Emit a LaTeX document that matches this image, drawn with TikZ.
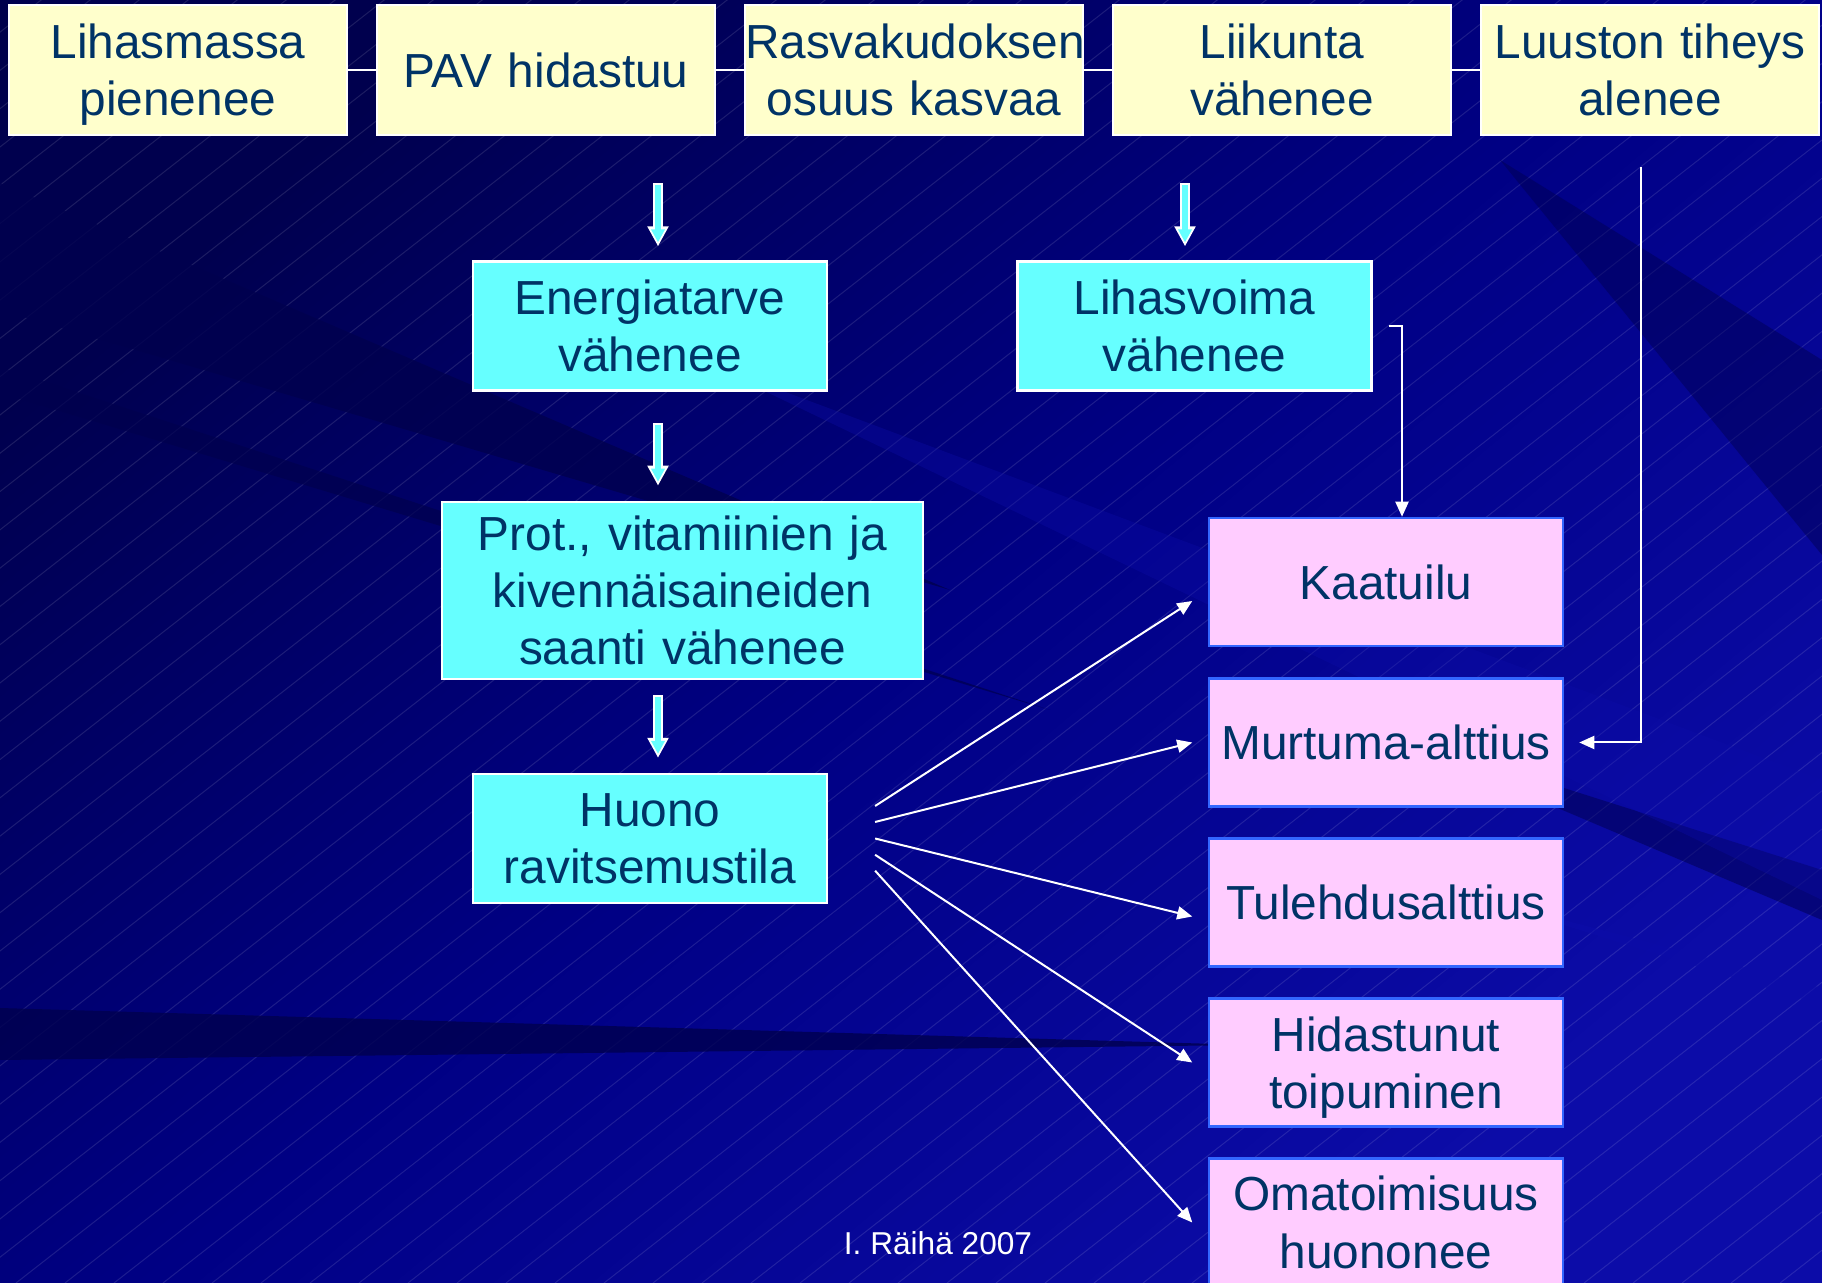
\documentclass[tikz,border=0pt]{standalone}
\usepackage{fontspec}
\setmainfont{Liberation Sans}
\usetikzlibrary{arrows.meta}
\definecolor{tummaSini}{RGB}{0,0,78}
\definecolor{pohjaSini}{RGB}{0,0,132}
\definecolor{vaaleaSini}{RGB}{12,12,168}
\definecolor{tekstiSini}{RGB}{0,51,102}
\definecolor{keltainen}{RGB}{255,255,204}
\definecolor{syaani}{RGB}{102,255,255}
\definecolor{roosa}{RGB}{255,204,255}
\definecolor{reunaSini}{RGB}{51,102,255}

\begin{document}
\begin{tikzpicture}[node distance=3.68cm, auto,
    box/.style={rectangle, inner sep=0pt, align=center, text=tekstiSini, font=\fontsize{13.6}{16.3}\selectfont},
    topbox/.style={box, draw=white, line width=0.22mm, fill=keltainen, minimum width=3.38cm, text width=3.38cm, minimum height=1.30cm},
    cyanbox/.style={box, draw=white, line width=0.22mm, fill=syaani, minimum width=3.54cm, text width=3.54cm, minimum height=1.29cm},
    pinkbox/.style={box, draw=reunaSini, line width=0.25mm, fill=roosa, minimum width=3.54cm, text width=3.54cm, minimum height=1.28cm},
    link/.style={draw=white, line width=0.25mm},
    line/.style={draw=white, line width=0.2mm, -{Triangle[width=1.3mm,length=1.5mm]}},
    blockarrow/.style={draw=syaani, line width=0.6mm, shorten <=0.2mm, shorten >=0.4mm, -{Triangle[width=1.3mm,length=1.3mm]},
        preaction={draw=white, line width=1mm, shorten <=0mm, shorten >=0mm, -{Triangle[width=2mm,length=2mm]}}},
    hatch/.style={draw=white, opacity=0.11, line width=0.1mm}]

    % tausta
    \clip (0,0) rectangle (18.22,-12.83);
    \shade [shading=axis, top color=tummaSini, bottom color=vaaleaSini, middle color=pohjaSini, shading angle=40] (0,0) rectangle (18.22,-12.83);
    \foreach \k in {0,...,72}
        \draw [hatch] (-16.5+\k*0.49,-12.83) -- ++(38:21);
    \fill [tummaSini, opacity=0.8] (0,-1.83) -- (9.5,-5.9) -- (0,-3.10) -- cycle;
    \fill [tummaSini, opacity=0.7] (0,-3.67) -- (10.5,-7.1) -- (0,-3.93) -- cycle;
    \fill [tummaSini, opacity=0.8] (0,-10.08) -- (12.5,-10.45) -- (0,-10.6) -- cycle;
    \fill [tummaSini, opacity=0.45] (15.0,-1.6) -- (18.22,-3.6) -- (18.22,-5.55) -- cycle;
    \fill [tummaSini, opacity=0.5] (13.5,-7.2) -- (18.22,-8.7) -- (18.22,-9.2) -- cycle;
    \fill [vaaleaSini, opacity=0.6] (14.5,-8.9) -- (18.22,-9.88) -- (18.22,-10.05) -- cycle;
    \fill [vaaleaSini, opacity=0.35] (7.0,-3.6) -- (18.22,-7.8) -- (18.22,-9.0) -- cycle;

    \node [topbox] (lihasmassa) at (1.78,-0.70) {Lihasmassa\\\smash{pienenee}};
    \node [topbox, right of=lihasmassa] (pav) {PAV hidastuu};
    \node [topbox, right of=pav] (rasva) {Rasvakudoksen\\osuus kasvaa};
    \node [topbox, right of=rasva] (liikunta) {Liikunta\\vähenee};
    \node [topbox, right of=liikunta] (luusto) {Luuston tiheys\\alenee};

    \node [cyanbox] (energia) at (6.50,-3.26) {Energiatarve\\vähenee};
    \node [cyanbox, node distance=5.445cm, right of=energia] (lihasvoima) {Lihasvoima\\vähenee};
    \node [cyanbox, minimum width=4.81cm, text width=4.81cm, minimum height=1.77cm] (prot) at (6.825,-5.903) {Prot., vitamiinien ja\\kivennäisaineiden\\saanti vähenee};
    \node [cyanbox, node distance=5.125cm, below of=energia] (huono) {Huono\\ravitsemustila};

    \node [pinkbox] (kaatuilu) at (13.86,-5.82) {Kaatuilu};
    \node [pinkbox, node distance=1.605cm, below of=kaatuilu] (murtuma) {Murtuma-alttius};
    \node [pinkbox, node distance=1.60cm, below of=murtuma] (tulehdus) {Tulehdusalttius};
    \node [pinkbox, node distance=1.60cm, below of=tulehdus] (hidastunut) {Hidastunut\\\smash{toipuminen}};
    \node [pinkbox, node distance=1.60cm, below of=hidastunut] (omatoimisuus) {Omatoimisuus\\huononee};

    \node [text=white, font=\fontsize{9}{11}\selectfont] (tekija) at (9.38,-12.43) {I. Räihä 2007};

    \path [link] (lihasmassa) -- (pav);
    \path [link] (pav) -- (rasva);
    \path [link] (rasva) -- (liikunta);
    \path [link] (liikunta) -- (luusto);

    \path [blockarrow] ([xshift=0.8mm,yshift=-4.7mm]energia.north |- pav.south) -- ([xshift=0.8mm,yshift=1.4mm]energia.north);
    \path [blockarrow] ([xshift=-0.95mm,yshift=-4.7mm]lihasvoima.north |- liikunta.south) -- ([xshift=-0.95mm,yshift=1.4mm]lihasvoima.north);
    \path [blockarrow] ([xshift=0.8mm,yshift=-3.15mm]energia.south) -- ([xshift=0.8mm,yshift=1.5mm]energia.south |- prot.north);
    \path [blockarrow] ([xshift=0.8mm,yshift=-1.55mm]huono.north |- prot.south) -- ([xshift=0.8mm,yshift=1.5mm]huono.north);

    \path [line] ([xshift=1.6mm]lihasvoima.east) -| ([xshift=1.6mm]kaatuilu.north);
    \path [line] ([xshift=-0.9mm,yshift=-3.1mm]luusto.south) |- ([xshift=1.5mm]murtuma.east);

    \path [line] ([xshift=4.7mm,yshift=3.25mm]huono.east) -- ([xshift=-1.55mm,yshift=-1.9mm]kaatuilu.west);
    \path [line] ([xshift=4.7mm,yshift=1.65mm]huono.east) -- ([xshift=-1.55mm]murtuma.west);
    \path [line] ([xshift=4.7mm]huono.east) -- ([xshift=-1.55mm,yshift=-1.4mm]tulehdus.west);
    \path [line] ([xshift=4.7mm,yshift=-1.63mm]huono.east) -- ([xshift=-1.55mm]hidastunut.west);
    \path [line] ([xshift=4.7mm,yshift=-3.22mm]huono.east) -- ([xshift=-1.55mm]omatoimisuus.west);
\end{tikzpicture}
\end{document}
